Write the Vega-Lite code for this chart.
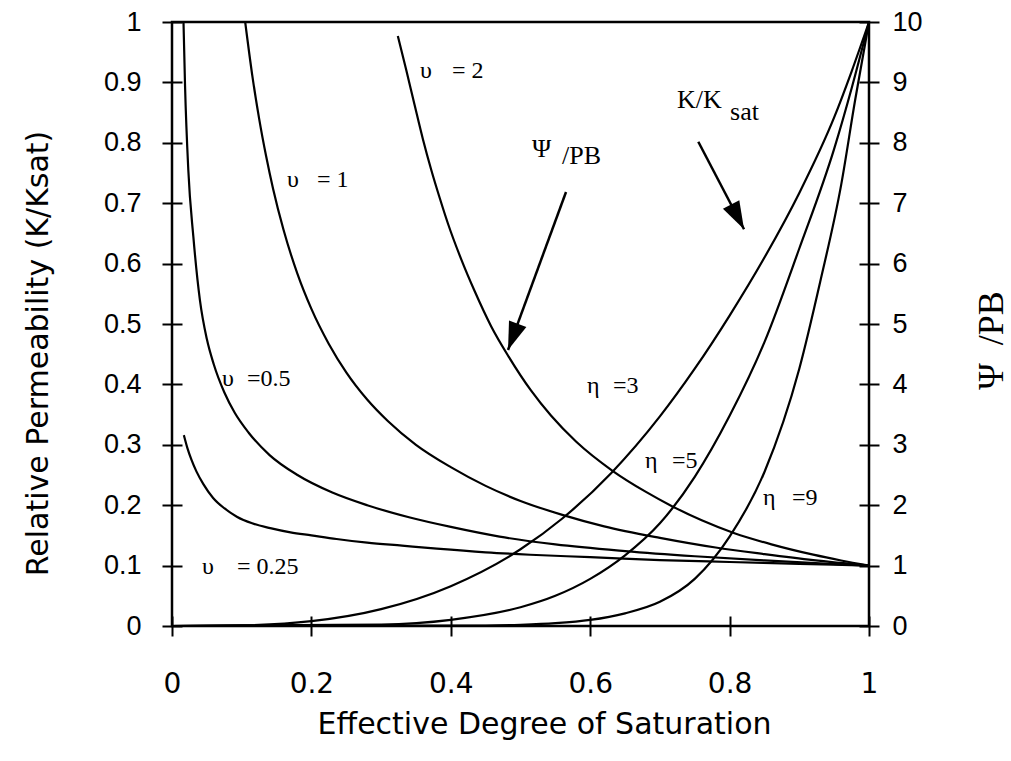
{
  "$schema": "https://vega.github.io/schema/vega-lite/v6.json",
  "width": 697,
  "height": 604,
  "autosize": {"type": "none"},
  "padding": {"left": 172, "top": 22, "right": 142, "bottom": 135},
  "background": "white",
  "config": {
    "view": {"stroke": "black", "strokeWidth": 2.5},
    "axis": {"grid": false, "tickColor": "black", "labelColor": "black", "titleColor": "black", "tickWidth": 2}
  },
  "datasets": {
    "eta": [
      {"eta": "3", "se": 0, "k": 0}, {"eta": "3", "se": 0.1, "k": 0.001}, {"eta": "3", "se": 0.2, "k": 0.008},
      {"eta": "3", "se": 0.3, "k": 0.028}, {"eta": "3", "se": 0.4, "k": 0.066}, {"eta": "3", "se": 0.5, "k": 0.127},
      {"eta": "3", "se": 0.56, "k": 0.178}, {"eta": "3", "se": 0.63, "k": 0.253}, {"eta": "3", "se": 0.7, "k": 0.347},
      {"eta": "3", "se": 0.75, "k": 0.426}, {"eta": "3", "se": 0.8, "k": 0.514}, {"eta": "3", "se": 0.85, "k": 0.61},
      {"eta": "3", "se": 0.9, "k": 0.717}, {"eta": "3", "se": 0.95, "k": 0.842}, {"eta": "3", "se": 0.975, "k": 0.918},
      {"eta": "3", "se": 1, "k": 1},
      {"eta": "5", "se": 0, "k": 0}, {"eta": "5", "se": 0.3, "k": 0.0024}, {"eta": "5", "se": 0.4, "k": 0.0102},
      {"eta": "5", "se": 0.5, "k": 0.031}, {"eta": "5", "se": 0.55, "k": 0.05}, {"eta": "5", "se": 0.6, "k": 0.078},
      {"eta": "5", "se": 0.65, "k": 0.117}, {"eta": "5", "se": 0.7, "k": 0.17}, {"eta": "5", "se": 0.75, "k": 0.247},
      {"eta": "5", "se": 0.8, "k": 0.348}, {"eta": "5", "se": 0.85, "k": 0.47}, {"eta": "5", "se": 0.9, "k": 0.625},
      {"eta": "5", "se": 0.95, "k": 0.79}, {"eta": "5", "se": 0.975, "k": 0.89}, {"eta": "5", "se": 1, "k": 1},
      {"eta": "9", "se": 0, "k": 0}, {"eta": "9", "se": 0.45, "k": 0.0008}, {"eta": "9", "se": 0.5, "k": 0.002},
      {"eta": "9", "se": 0.55, "k": 0.0046}, {"eta": "9", "se": 0.6, "k": 0.01}, {"eta": "9", "se": 0.65, "k": 0.021},
      {"eta": "9", "se": 0.7, "k": 0.04}, {"eta": "9", "se": 0.75, "k": 0.078}, {"eta": "9", "se": 0.8, "k": 0.148},
      {"eta": "9", "se": 0.85, "k": 0.255}, {"eta": "9", "se": 0.9, "k": 0.426}, {"eta": "9", "se": 0.93, "k": 0.57},
      {"eta": "9", "se": 0.96, "k": 0.73}, {"eta": "9", "se": 0.98, "k": 0.87}, {"eta": "9", "se": 1, "k": 1}
    ],
    "nu": [
      {"nu": "0.25", "se": 0.017, "psi": 3.16}, {"nu": "0.25", "se": 0.022, "psi": 2.95}, {"nu": "0.25", "se": 0.028, "psi": 2.75},
      {"nu": "0.25", "se": 0.035, "psi": 2.56}, {"nu": "0.25", "se": 0.045, "psi": 2.35}, {"nu": "0.25", "se": 0.059, "psi": 2.12},
      {"nu": "0.25", "se": 0.075, "psi": 1.95}, {"nu": "0.25", "se": 0.093, "psi": 1.81}, {"nu": "0.25", "se": 0.115, "psi": 1.7},
      {"nu": "0.25", "se": 0.141, "psi": 1.62}, {"nu": "0.25", "se": 0.17, "psi": 1.55}, {"nu": "0.25", "se": 0.2, "psi": 1.5},
      {"nu": "0.25", "se": 0.236, "psi": 1.44}, {"nu": "0.25", "se": 0.28, "psi": 1.38}, {"nu": "0.25", "se": 0.33, "psi": 1.33},
      {"nu": "0.25", "se": 0.38, "psi": 1.28}, {"nu": "0.25", "se": 0.45, "psi": 1.22}, {"nu": "0.25", "se": 0.514, "psi": 1.18},
      {"nu": "0.25", "se": 0.6, "psi": 1.14}, {"nu": "0.25", "se": 0.7, "psi": 1.09}, {"nu": "0.25", "se": 0.8, "psi": 1.06},
      {"nu": "0.25", "se": 0.9, "psi": 1.03}, {"nu": "0.25", "se": 1, "psi": 1},
      {"nu": "0.5", "se": 0.0165, "psi": 10}, {"nu": "0.5", "se": 0.0187, "psi": 8.95}, {"nu": "0.5", "se": 0.0234, "psi": 7.55},
      {"nu": "0.5", "se": 0.0306, "psi": 6.45}, {"nu": "0.5", "se": 0.04, "psi": 5.4}, {"nu": "0.5", "se": 0.05, "psi": 4.75},
      {"nu": "0.5", "se": 0.06, "psi": 4.33}, {"nu": "0.5", "se": 0.075, "psi": 3.87}, {"nu": "0.5", "se": 0.09, "psi": 3.53},
      {"nu": "0.5", "se": 0.11, "psi": 3.2}, {"nu": "0.5", "se": 0.14, "psi": 2.83}, {"nu": "0.5", "se": 0.18, "psi": 2.5},
      {"nu": "0.5", "se": 0.23, "psi": 2.21}, {"nu": "0.5", "se": 0.28, "psi": 2.0}, {"nu": "0.5", "se": 0.34, "psi": 1.8},
      {"nu": "0.5", "se": 0.4, "psi": 1.64}, {"nu": "0.5", "se": 0.47, "psi": 1.48}, {"nu": "0.5", "se": 0.55, "psi": 1.35},
      {"nu": "0.5", "se": 0.65, "psi": 1.24}, {"nu": "0.5", "se": 0.75, "psi": 1.155}, {"nu": "0.5", "se": 0.85, "psi": 1.085},
      {"nu": "0.5", "se": 0.93, "psi": 1.037}, {"nu": "0.5", "se": 1, "psi": 1},
      {"nu": "1", "se": 0.105, "psi": 10}, {"nu": "1", "se": 0.115, "psi": 9.13}, {"nu": "1", "se": 0.125, "psi": 8.4},
      {"nu": "1", "se": 0.135, "psi": 7.78}, {"nu": "1", "se": 0.145, "psi": 7.24}, {"nu": "1", "se": 0.16, "psi": 6.56},
      {"nu": "1", "se": 0.18, "psi": 5.83}, {"nu": "1", "se": 0.2, "psi": 5.25}, {"nu": "1", "se": 0.225, "psi": 4.67},
      {"nu": "1", "se": 0.25, "psi": 4.2}, {"nu": "1", "se": 0.28, "psi": 3.75}, {"nu": "1", "se": 0.31, "psi": 3.39},
      {"nu": "1", "se": 0.35, "psi": 3.0}, {"nu": "1", "se": 0.4, "psi": 2.63}, {"nu": "1", "se": 0.45, "psi": 2.32},
      {"nu": "1", "se": 0.5, "psi": 2.07}, {"nu": "1", "se": 0.56, "psi": 1.84}, {"nu": "1", "se": 0.62, "psi": 1.65},
      {"nu": "1", "se": 0.7, "psi": 1.46}, {"nu": "1", "se": 0.78, "psi": 1.3}, {"nu": "1", "se": 0.85, "psi": 1.19},
      {"nu": "1", "se": 0.92, "psi": 1.09}, {"nu": "1", "se": 1, "psi": 1},
      {"nu": "2", "se": 0.324, "psi": 9.77}, {"nu": "2", "se": 0.336, "psi": 9.21}, {"nu": "2", "se": 0.348, "psi": 8.63},
      {"nu": "2", "se": 0.36, "psi": 8.06}, {"nu": "2", "se": 0.372, "psi": 7.55}, {"nu": "2", "se": 0.384, "psi": 7.09},
      {"nu": "2", "se": 0.396, "psi": 6.66}, {"nu": "2", "se": 0.415, "psi": 6.07}, {"nu": "2", "se": 0.434, "psi": 5.55},
      {"nu": "2", "se": 0.458, "psi": 4.96}, {"nu": "2", "se": 0.483, "psi": 4.46}, {"nu": "2", "se": 0.515, "psi": 3.9},
      {"nu": "2", "se": 0.544, "psi": 3.48}, {"nu": "2", "se": 0.58, "psi": 3.05}, {"nu": "2", "se": 0.632, "psi": 2.57},
      {"nu": "2", "se": 0.68, "psi": 2.22}, {"nu": "2", "se": 0.718, "psi": 1.98}, {"nu": "2", "se": 0.76, "psi": 1.75},
      {"nu": "2", "se": 0.807, "psi": 1.536}, {"nu": "2", "se": 0.86, "psi": 1.352}, {"nu": "2", "se": 0.92, "psi": 1.181},
      {"nu": "2", "se": 0.96, "psi": 1.085}, {"nu": "2", "se": 1, "psi": 1}
    ],
    "curveLabels": [
      {"t": "υ", "se": 0.3558, "k": 0.9073}, {"t": "= 2", "se": 0.4017, "k": 0.9073},
      {"t": "υ", "se": 0.165, "k": 0.7268}, {"t": "= 1", "se": 0.208, "k": 0.7268},
      {"t": "υ", "se": 0.0717, "k": 0.3974}, {"t": "=0.5", "se": 0.1076, "k": 0.3974},
      {"t": "υ", "se": 0.043, "k": 0.0861}, {"t": "= 0.25", "se": 0.0933, "k": 0.0861},
      {"t": "η", "se": 0.5954, "k": 0.3858}, {"t": "=3", "se": 0.6327, "k": 0.3858},
      {"t": "η", "se": 0.6786, "k": 0.2616}, {"t": "=5", "se": 0.7174, "k": 0.2616},
      {"t": "η", "se": 0.8479, "k": 0.2003}, {"t": "=9", "se": 0.8895, "k": 0.2003}
    ],
    "annotations": [
      {"t": "Ψ", "se": 0.5165, "k": 0.7765}, {"t": "/PB", "se": 0.5595, "k": 0.7649},
      {"t": "K/K", "se": 0.7245, "k": 0.8576}, {"t": "sat", "se": 0.8006, "k": 0.8377}
    ],
    "arrows": [
      {"id": "psi", "se": 0.5653, "k": 0.7185, "se2": 0.4821, "k2": 0.457},
      {"id": "k", "se": 0.7551, "k": 0.8018, "se2": 0.8207, "k2": 0.6568}
    ]
  },
  "layer": [
    {
      "layer": [
        {
          "data": {"name": "eta"},
          "mark": {"type": "line", "color": "black", "strokeWidth": 2.2, "interpolate": "monotone"},
          "encoding": {
            "x": {
              "field": "se", "type": "quantitative",
              "scale": {"domain": [0, 1], "nice": false},
              "axis": {
                "values": [0, 0.2, 0.4, 0.6, 0.8, 1], "format": "~g", "domain": false,
                "offset": -10, "tickSize": 20, "tickWidth": 2,
                "labelFont": "DejaVu Sans", "labelFontSize": 28, "labelPadding": 34,
                "labelFlush": false, "labelOverlap": false,
                "title": "Effective Degree of Saturation", "titleFont": "DejaVu Sans", "titleFontSize": 30,
                "titleFontWeight": "normal", "titleX": 372, "titleY": 117, "titleAlign": "center", "titleBaseline": "alphabetic"
              }
            },
            "y": {
              "field": "k", "type": "quantitative",
              "scale": {"domain": [0, 1], "nice": false},
              "axis": {
                "orient": "left",
                "values": [0, 0.1, 0.2, 0.3, 0.4, 0.5, 0.6, 0.7, 0.8, 0.9, 1], "format": "~g", "domain": false,
                "offset": -10, "tickSize": 20, "tickWidth": 2,
                "labelFont": "Liberation Sans", "labelFontSize": 27, "labelPadding": 21,
                "labelFlush": false, "labelOverlap": false,
                "title": "Relative Permeability (K/Ksat)", "titleFont": "DejaVu Sans", "titleFontSize": 30,
                "titleFontWeight": "normal", "titleAngle": 270, "titleX": -135, "titleY": 331, "titleAlign": "center", "titleBaseline": "alphabetic"
              }
            },
            "detail": {"field": "eta"}
          }
        },
        {
          "data": {"name": "curveLabels"},
          "mark": {"type": "text", "font": "Liberation Serif", "fontSize": 24, "align": "left", "baseline": "alphabetic", "color": "black"},
          "encoding": {
            "x": {"field": "se", "type": "quantitative", "scale": {"domain": [0, 1], "nice": false}},
            "y": {"field": "k", "type": "quantitative", "scale": {"domain": [0, 1], "nice": false}},
            "text": {"field": "t"}
          }
        },
        {
          "data": {"name": "annotations"},
          "mark": {"type": "text", "font": "Liberation Serif", "fontSize": 26, "align": "left", "baseline": "alphabetic", "color": "black"},
          "encoding": {
            "x": {"field": "se", "type": "quantitative", "scale": {"domain": [0, 1], "nice": false}},
            "y": {"field": "k", "type": "quantitative", "scale": {"domain": [0, 1], "nice": false}},
            "text": {"field": "t"}
          }
        },
        {
          "data": {"name": "arrows"},
          "mark": {"type": "rule", "color": "black", "strokeWidth": 2.5},
          "encoding": {
            "x": {"field": "se", "type": "quantitative", "scale": {"domain": [0, 1], "nice": false}},
            "y": {"field": "k", "type": "quantitative", "scale": {"domain": [0, 1], "nice": false}},
            "x2": {"field": "se2"},
            "y2": {"field": "k2"}
          }
        },
        {
          "data": {"name": "arrows"},
          "transform": [{"filter": "datum.id === 'psi'"}],
          "mark": {"type": "point", "shape": "M0,0L-0.33,-1L0.33,-1Z", "filled": true, "color": "black", "opacity": 1, "size": 3136, "angle": 20.2},
          "encoding": {
            "x": {"field": "se2", "type": "quantitative", "scale": {"domain": [0, 1], "nice": false}},
            "y": {"field": "k2", "type": "quantitative", "scale": {"domain": [0, 1], "nice": false}}
          }
        },
        {
          "data": {"name": "arrows"},
          "transform": [{"filter": "datum.id === 'k'"}],
          "mark": {"type": "point", "shape": "M0,0L-0.33,-1L0.33,-1Z", "filled": true, "color": "black", "opacity": 1, "size": 3136, "angle": -27.5},
          "encoding": {
            "x": {"field": "se2", "type": "quantitative", "scale": {"domain": [0, 1], "nice": false}},
            "y": {"field": "k2", "type": "quantitative", "scale": {"domain": [0, 1], "nice": false}}
          }
        }
      ]
    },
    {
      "data": {"name": "nu"},
      "mark": {"type": "line", "color": "black", "strokeWidth": 2.2, "interpolate": "monotone"},
      "encoding": {
        "x": {"field": "se", "type": "quantitative", "scale": {"domain": [0, 1], "nice": false}},
        "y": {
          "field": "psi", "type": "quantitative",
          "scale": {"domain": [0, 10], "nice": false},
          "axis": {
            "orient": "right",
            "values": [0, 1, 2, 3, 4, 5, 6, 7, 8, 9, 10], "format": "d", "domain": false,
            "offset": -10, "tickSize": 20, "tickWidth": 2,
            "labelFont": "Liberation Sans", "labelFontSize": 27, "labelPadding": 13,
            "labelFlush": false, "labelOverlap": false,
            "title": "Ψ\u2002/PB", "titleFont": "Liberation Serif", "titleFontSize": 36,
            "titleFontWeight": "normal", "titleAngle": 270, "titleX": 143, "titleY": 318, "titleAlign": "center", "titleBaseline": "alphabetic"
          }
        },
        "detail": {"field": "nu"}
      }
    }
  ],
  "resolve": {"scale": {"y": "independent"}}
}
